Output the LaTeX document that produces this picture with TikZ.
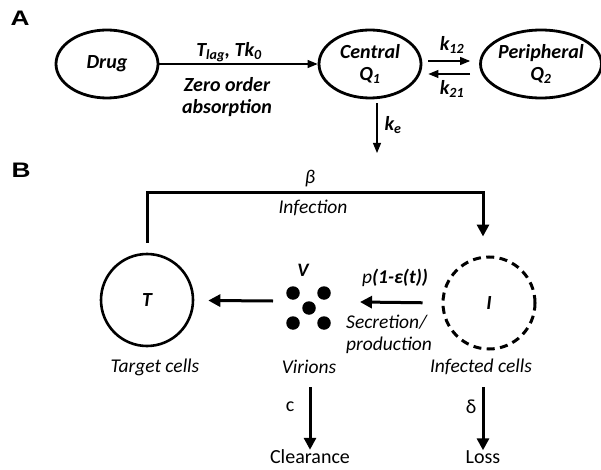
\documentclass[tikz,border=0pt]{standalone}
\usepackage{fontspec}
\setmainfont{Carlito}
\newfontfamily\panelfont{Liberation Sans}
\usetikzlibrary{arrows.meta,shapes.geometric}
\begin{document}
\begin{tikzpicture}[x=1pt,y=-1pt,
  fa/.style={font=\fontsize{20}{22}\selectfont\bfseries\itshape},
  ell/.style={ellipse,draw,line width=2.8pt,minimum width=102pt,minimum height=68pt,inner sep=0pt,align=center,fa},
  cell/.style={circle,draw,line width=2.6pt,minimum size=92pt,inner sep=0pt,font=\fontsize{20}{22}\selectfont\bfseries\itshape},
  lab/.style={font=\fontsize{19.5}{22}\selectfont\itshape,inner sep=0pt},
  rlab/.style={font=\fontsize{20}{22}\selectfont,inner sep=0pt},
  thinarr/.style={line width=1.1pt,-{Triangle[length=10pt,width=8pt]}},
  thickarr/.style={line width=3pt,-{Triangle[length=12pt,width=12pt]}},
  panel/.style={font=\fontsize{21}{24}\selectfont\panelfont\bfseries,inner sep=0pt,xscale=1.25,transform shape},
  dot/.style={circle,fill,inner sep=0pt,minimum size=13.5pt}
]
\useasboundingbox (0,0) rectangle (601,470);

% Panel A
\node[panel] (pa) at (20,18) {A};
\node[ell] (drug) at (107,64) {Drug};
\node[ell] (cen) at (370,64) {Central\\Q\textsubscript{1}};
\node[ell] (per) at (541,64) {Peripheral\\Q\textsubscript{2}};
\draw[thinarr] (drug.east) -- (cen.west);
\node[fa,inner sep=0pt] (tlag) at (229,52) {T\textsubscript{lag}, Tk\textsubscript{0}};
\node[fa,inner sep=0pt,align=center] (zero) at (227,97) {Zero order\\absorption};
\draw[thinarr,shorten <=6pt,shorten >=9pt] ([yshift=3pt]cen.east) -- ([yshift=3pt]per.west);
\draw[thinarr,shorten <=9pt,shorten >=6pt] ([yshift=-10pt]per.west) -- ([yshift=-10pt]cen.east);
\node[fa,inner sep=0pt] (k12) at (452,45) {k\textsubscript{12}};
\node[fa,inner sep=0pt] (k21) at (452,89) {k\textsubscript{21}};
\coordinate (keend) at (377,153);
\draw[thinarr] ([xshift=7pt,yshift=-4pt]cen.south) -- (keend);
\node[fa,inner sep=0pt] (ke) at (393,125) {k\textsubscript{e}};

% Panel B
\node[panel] (pb) at (21,170) {B};
\node[cell] (T) at (147,300) {T};
\node[cell,dash pattern=on 8pt off 5.4pt,line width=3pt] (I) at (489,303) {I};
\node[lab] (tc) at (155,367) {Target cells};
\node[lab] (vir) at (309,367) {Virions};
\node[lab] (ic) at (481,367) {Infected cells};

\node[dot] (d1) at (293,293) {};
\node[dot] (d2) at (324,293) {};
\node[dot] (d3) at (309,308) {};
\node[dot] (d4) at (293,323) {};
\node[dot] (d5) at (324,323) {};
\node[font=\fontsize{19}{21}\selectfont\bfseries\itshape,inner sep=0pt] (V) at (303,270) {V};

\draw[line width=3pt,-{Triangle[length=12pt,width=12pt]}]
  ([yshift=10pt]T.north) -- ++(0,-50) -| ([xshift=-6pt,yshift=19pt]I.north);
\node[lab] (beta) at (310,179) {β};
\node[lab] (inf) at (313,208) {Infection};

\coordinate (vstart) at (273,301);
\draw[thickarr,shorten >=14pt] (vstart) -- (T);
\coordinate (prodend) at (360,302);
\draw[thickarr,shorten <=19pt] (I.west) -- (prodend);
\node[lab] (p) at (395,278) {p\textbf{(1-ε(t))}};
\node[lab,align=left,anchor=west] (sec) at (346,334) {Secretion/\\production};

\node[rlab] (clear) at (310,457) {Clearance};
\node[rlab] (loss) at (483,457) {Loss};
\draw[thickarr] (310,387) -- (clear.north);
\draw[thickarr] (483,387) -- (loss.north);
\node[rlab] (c) at (290,407) {c};
\node[rlab] (delta) at (471,407) {δ};
\end{tikzpicture}
\end{document}
